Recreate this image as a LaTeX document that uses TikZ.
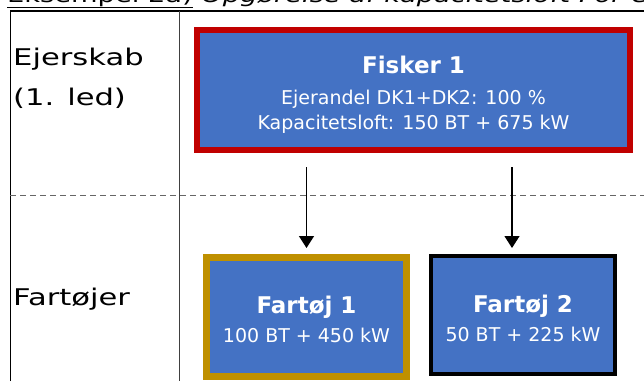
\documentclass[tikz,border=0pt]{standalone}
\usepackage{fontspec}
\setmainfont{DejaVu Sans}
\newfontfamily\widefont[FakeStretch=1.33]{DejaVu Sans}
\usepackage{tikz}
\usetikzlibrary{positioning, arrows.meta}
\definecolor{boxblue}{HTML}{4472C4}
\definecolor{ownerred}{HTML}{C00000}
\definecolor{vesselgold}{HTML}{BF9000}

\begin{document}
\begin{tikzpicture}[x=1pt, y=-1pt, >={Triangle[length=12pt, width=15pt]},
        box/.style = {shape=rectangle, fill=boxblue, text=white, align=center, inner sep=0pt, font=\fontsize{19}{25}\selectfont},
        rowlabel/.style = {anchor=base west, inner sep=0pt, font=\widefont\fontsize{23}{23}\selectfont},
        link/.style = {->, line width=1.3pt, shorten <=14pt, shorten >=6pt}]
                    \useasboundingbox (0, 0) rectangle (644, 381);
                    \clip (0, 0) rectangle (644, 381);
                    \node [anchor=base west, inner sep=0pt, font=\widefont\fontsize{20.5}{20.5}\selectfont] (title) at (7, 2) {\underline{Eksempel 2a)} \textit{Opgørelse af kapacitetsloft For en}};

                    \draw [line width=1.5pt] (10.5, 381) -- (10.5, 11) -- (644, 11);
                    \draw [line width=1pt, black!75] (179, 11) -- (179, 381);
                    \draw [line width=1pt, black!60, dash pattern=on 6pt off 4pt] (10, 195) -- (644, 195);

                    \node [rowlabel] (owner) at (13, 65) {Ejerskab};
                    \node [rowlabel] (ownerlevel) at (13, 105) {(1. led)};
                    \node [rowlabel] (vessels) at (13, 305) {Fartøjer};

                    \node [box, draw=ownerred, line width=6pt, minimum width=433, minimum height=120] (fisker) at (413.5, 90) {{\fontsize{23}{23}\selectfont\bfseries\rule{0pt}{26pt}Fisker 1}\\[6pt] Ejerandel DK1+DK2: 100 \%\\ Kapacitetsloft: 150 BT + 675 kW};
                    \node [box, draw=vesselgold, line width=7pt, minimum width=200, minimum height=119] (vessel1) at (306.5, 317) {{\fontsize{23}{23}\selectfont\bfseries\rule{0pt}{23pt}Fartøj 1}\\[4pt] 100 BT + 450 kW};
                    \node [box, draw=black, line width=4pt, minimum width=184, minimum height=118] (vessel2) at (523, 315) {{\fontsize{23}{23}\selectfont\bfseries\rule{0pt}{24pt}Fartøj 2}\\[4pt] 50 BT + 225 kW};
                    \coordinate (drop2) at ([xshift=-11pt]vessel2.north);

                    \draw [link] (fisker.south -| vessel1.north) -- (vessel1.north);
                    \draw [link] (fisker.south -| drop2) -- (drop2);
                \end{tikzpicture}
\end{document}
